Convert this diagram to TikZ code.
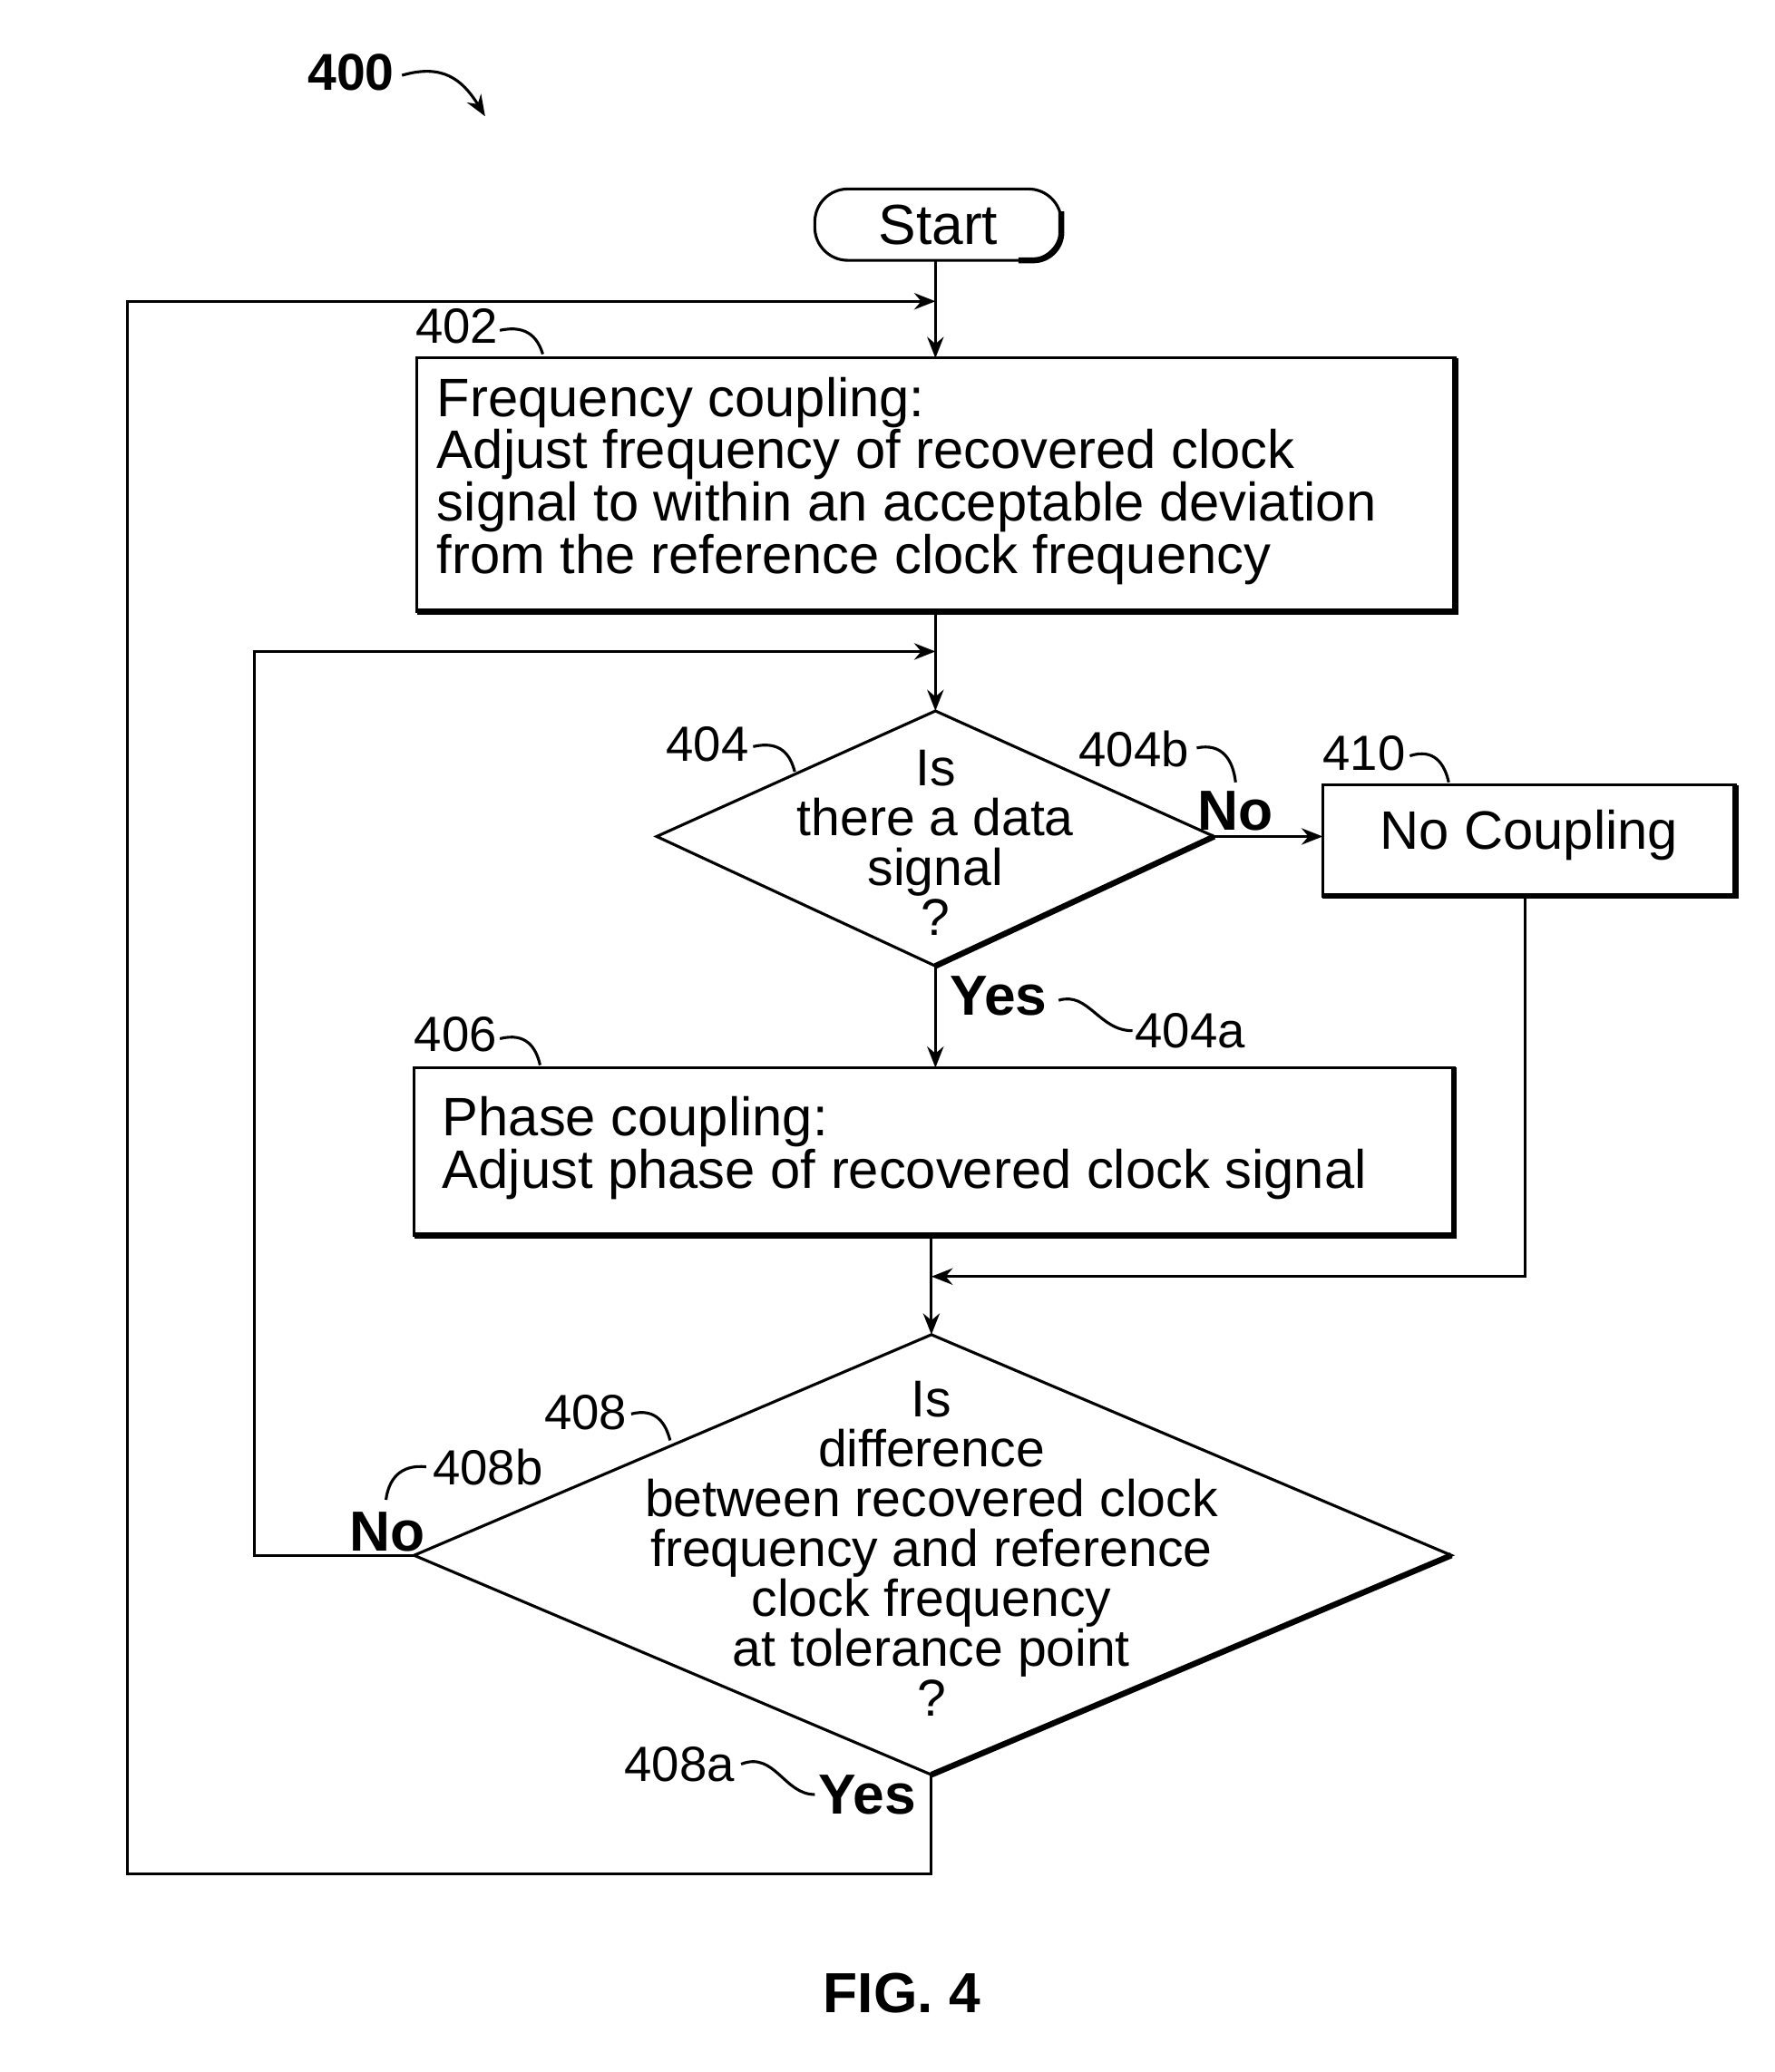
\documentclass[tikz,border=0pt]{standalone}
\usepackage{fontspec}
\setmainfont{Liberation Sans}
\usetikzlibrary{arrows.meta}
\begin{document}
\begin{tikzpicture}[x=0.02cm,y=-0.01973cm,
  ln/.style={line width=1.2pt},
  ar/.style={ln,-{Stealth[length=9pt,width=7pt]}},
  txt/.style={font=\fontsize{23}{22.3}\selectfont,align=left,anchor=west},
  dtxt/.style={font=\fontsize{22}{21.2}\selectfont,align=center},
  lab/.style={font=\fontsize{21}{22}\selectfont},
  bl/.style={font=\bfseries\fontsize{24}{24}\selectfont}]
\useasboundingbox (0,0) rectangle (1324,1568);
% Start
\draw[ln,rounded corners=14pt] (608,143) rectangle (792,197);
\draw[line width=2.5pt,rounded corners=12pt] (760,197) -- (792,197) -- (792,160);
\node[font=\fontsize{24}{24}\selectfont] (start) at (700,170) {Start};
\coordinate (startb) at (698,197);
% 402
\draw[ln] (311,271) rectangle (1086,463);
\draw[line width=2.5pt] (311,463) -- (1086,463) -- (1086,271);
\coordinate (b402t) at (698,271);
\coordinate (b402b) at (698,463);
\node[txt] (t402) at (320,364) {Frequency coupling:\\Adjust frequency of recovered clock\\signal to within an acceptable deviation\\from the reference clock frequency};
% 404 diamond
\coordinate (d4t) at (698,538); \coordinate (d4l) at (490,633);
\coordinate (d4r) at (906,633); \coordinate (d4b) at (698,731);
\draw[ln] (d4t) -- (d4r) -- (d4b) -- (d4l) -- cycle;
\draw[line width=2.5pt] (d4r) -- (d4b);
\node[dtxt] (t404) at (698,638) {Is\\there a data\\signal\\?};
% 410
\draw[ln] (987,594) rectangle (1295,678);
\draw[line width=2.5pt] (987,678) -- (1295,678) -- (1295,594);
\coordinate (b410l) at (987,633);
\coordinate (b410b) at (1138,678);
\node[font=\fontsize{23}{24}\selectfont] (t410) at (1141,632) {No Coupling};
% 406
\draw[ln] (309,808) rectangle (1085,935);
\draw[line width=2.5pt] (309,935) -- (1085,935) -- (1085,808);
\coordinate (b406t) at (698,808);
\coordinate (b406b) at (695,935);
\node[txt] (t406) at (324,869) {Phase coupling:\\Adjust phase of recovered clock signal};
% 408 diamond
\coordinate (d8t) at (695,1010); \coordinate (d8l) at (309,1177);
\coordinate (d8r) at (1083,1177); \coordinate (d8b) at (695,1343);
\draw[ln] (d8t) -- (d8r) -- (d8b) -- (d8l) -- cycle;
\draw[line width=2.5pt] (d8r) -- (d8b);
\node[dtxt] (t408) at (695,1172) {Is\\difference\\between recovered clock\\frequency and reference\\clock frequency\\at tolerance point\\?};
% connectors
\draw[ar] (startb) -- (b402t);
\draw[ar] (b402b) -- (d4t);
\draw[ar] (d4b) -- (b406t);
\draw[ar] (d4r) -- (b410l);
\draw[ar] (b406b) -- (d8t);
\coordinate (j1) at (695,966);
\draw[ar] (b410b) |- (j1);
\coordinate (j2) at (698,493);
\draw[ar] (d8l) -- (190,1177) -- (190,493) -- (j2);
\coordinate (j3) at (698,228);
\draw[ar] (d8b) -- (695,1418) -- (95,1418) -- (95,228) -- (j3);
% labels
\node[font=\bfseries\fontsize{22}{22}\selectfont] (l400) at (262,55) {400};
\draw[ar] (300,57) .. controls (330,48) and (345,60) .. (362,88);
\node[lab] (l402) at (341,247) {402};
\draw[ln] (373,250) .. controls (395,245) and (402,258) .. (405,268);
\node[lab] (l404) at (528,563) {404};
\draw[ln] (562,565) .. controls (583,560) and (590,572) .. (593,584);
\node[lab] (l404b) at (846,567) {404b};
\draw[ln] (893,566) .. controls (912,562) and (920,575) .. (922,592);
\node[lab] (l410) at (1018,570) {410};
\draw[ln] (1052,572) .. controls (1070,566) and (1078,578) .. (1081,592);
\node[bl] (no1) at (922,614) {No};
\node[bl] (yes1) at (745,754) {Yes};
\node[lab] (l404a) at (888,780) {404a};
\draw[ln] (790,757) .. controls (812,750) and (820,780) .. (845,780);
\node[lab] (l406) at (340,783) {406};
\draw[ln] (373,786) .. controls (393,781) and (400,793) .. (403,806);
\node[lab] (l408) at (437,1069) {408};
\draw[ln] (471,1070) .. controls (490,1065) and (497,1078) .. (500,1090);
\node[lab] (l408b) at (364,1110) {408b};
\draw[ln] (318,1110) .. controls (298,1108) and (290,1120) .. (288,1135);
\node[bl] (no2) at (289,1159) {No};
\node[lab] (l408a) at (507,1335) {408a};
\draw[ln] (553,1335) .. controls (578,1325) and (585,1358) .. (608,1358);
\node[bl] (yes2) at (647,1358) {Yes};
\node[font=\bfseries\fontsize{24}{24}\selectfont] (fig) at (673,1508) {FIG. 4};
\end{tikzpicture}
\end{document}
